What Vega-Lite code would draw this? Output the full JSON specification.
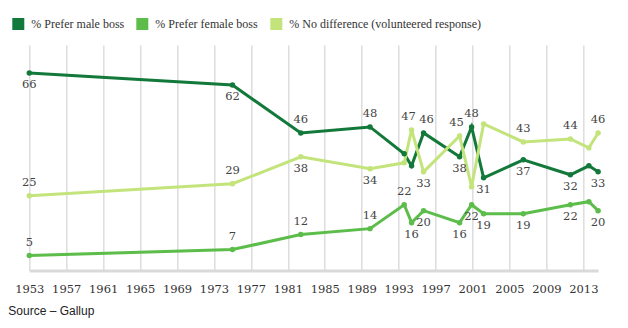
{
  "$schema": "https://vega.github.io/schema/vega-lite/v6.json",
  "autosize": {"type": "none"},
  "width": 568.8,
  "height": 225.5,
  "padding": {"left": 29.3, "top": 45, "right": 29.9, "bottom": 57.5},
  "background": "white",
  "config": {"view": {"stroke": null}},
  "title": {"text": "Source – Gallup", "orient": "bottom", "anchor": "start", "frame": "group", "font": "Liberation Sans", "fontSize": 12, "fontWeight": "normal", "color": "#222", "dx": -21, "offset": 11},
  "data": {"values": [
    {"year": 1953, "series": "% Prefer male boss", "value": 66},
    {"year": 1975, "series": "% Prefer male boss", "value": 62},
    {"year": 1982.4, "series": "% Prefer male boss", "value": 46},
    {"year": 1989.9, "series": "% Prefer male boss", "value": 48},
    {"year": 1993.6, "series": "% Prefer male boss", "value": 39},
    {"year": 1994.4, "series": "% Prefer male boss", "value": 35},
    {"year": 1995.7, "series": "% Prefer male boss", "value": 46},
    {"year": 1999.6, "series": "% Prefer male boss", "value": 38},
    {"year": 2000.9, "series": "% Prefer male boss", "value": 48},
    {"year": 2002.2, "series": "% Prefer male boss", "value": 31},
    {"year": 2006.5, "series": "% Prefer male boss", "value": 37},
    {"year": 2011.6, "series": "% Prefer male boss", "value": 32},
    {"year": 2013.6, "series": "% Prefer male boss", "value": 35},
    {"year": 2014.6, "series": "% Prefer male boss", "value": 33},
    {"year": 1953, "series": "% Prefer female boss", "value": 5},
    {"year": 1975, "series": "% Prefer female boss", "value": 7},
    {"year": 1982.4, "series": "% Prefer female boss", "value": 12},
    {"year": 1989.9, "series": "% Prefer female boss", "value": 14},
    {"year": 1993.6, "series": "% Prefer female boss", "value": 22},
    {"year": 1994.4, "series": "% Prefer female boss", "value": 16},
    {"year": 1995.7, "series": "% Prefer female boss", "value": 20},
    {"year": 1999.6, "series": "% Prefer female boss", "value": 16},
    {"year": 2000.9, "series": "% Prefer female boss", "value": 22},
    {"year": 2002.2, "series": "% Prefer female boss", "value": 19},
    {"year": 2006.5, "series": "% Prefer female boss", "value": 19},
    {"year": 2011.6, "series": "% Prefer female boss", "value": 22},
    {"year": 2013.6, "series": "% Prefer female boss", "value": 23},
    {"year": 2014.6, "series": "% Prefer female boss", "value": 20},
    {"year": 1953, "series": "% No difference (volunteered response)", "value": 25},
    {"year": 1975, "series": "% No difference (volunteered response)", "value": 29},
    {"year": 1982.4, "series": "% No difference (volunteered response)", "value": 38},
    {"year": 1989.9, "series": "% No difference (volunteered response)", "value": 34},
    {"year": 1993.6, "series": "% No difference (volunteered response)", "value": 36},
    {"year": 1994.4, "series": "% No difference (volunteered response)", "value": 47},
    {"year": 1995.7, "series": "% No difference (volunteered response)", "value": 33},
    {"year": 1999.6, "series": "% No difference (volunteered response)", "value": 45},
    {"year": 2000.9, "series": "% No difference (volunteered response)", "value": 28},
    {"year": 2002.2, "series": "% No difference (volunteered response)", "value": 49},
    {"year": 2006.5, "series": "% No difference (volunteered response)", "value": 43},
    {"year": 2011.6, "series": "% No difference (volunteered response)", "value": 44},
    {"year": 2013.6, "series": "% No difference (volunteered response)", "value": 41},
    {"year": 2014.6, "series": "% No difference (volunteered response)", "value": 46}
  ]},
  "encoding": {
    "x": {"field": "year", "type": "quantitative",
      "scale": {"domain": [1953, 2014.6], "nice": false, "zero": false},
      "axis": {"values": [1953, 1957, 1961, 1965, 1969, 1973, 1977, 1981, 1985, 1989, 1993, 1997, 2001, 2005, 2009, 2013],
        "format": "d", "title": null, "grid": true, "gridColor": "#dddddd", "gridWidth": 1.5,
        "domainColor": "#d9d9d9", "domainWidth": 3, "ticks": false,
        "labelFont": "DejaVu Serif", "labelFontSize": 11.5, "labelColor": "#333", "labelPadding": 13, "labelFlush": false, "labelOverlap": false}},
    "y": {"field": "value", "type": "quantitative", "scale": {"domain": [0, 75.4], "nice": false}, "axis": null}
  },
  "layer": [
    {
      "mark": {"type": "line", "strokeWidth": 3},
      "encoding": {
        "color": {"field": "series", "type": "nominal",
          "scale": {"domain": ["% Prefer male boss", "% Prefer female boss", "% No difference (volunteered response)"],
                    "range": ["#13793a", "#5cbd4b", "#c3e47b"]},
          "legend": {"orient": "none", "legendX": -17, "legendY": -27, "direction": "horizontal", "columns": 3, "title": null,
            "symbolType": "square", "symbolSize": 144, "symbolStrokeWidth": 0,
            "labelFont": "Liberation Serif", "labelFontSize": 12, "labelColor": "#333", "labelOffset": 7, "columnPadding": 12, "labelLimit": 300,
            "encode": {"symbols": {"update": {"fill": {"scale": "color", "field": "value"}, "strokeWidth": {"value": 0}, "opacity": {"value": 1}}}}}
        }
      }
    },
    {
      "mark": {"type": "circle", "size": 30, "opacity": 1},
      "encoding": {"color": {"field": "series", "type": "nominal"}}
    },
    {
      "transform": [{"filter": "(datum.series == '% Prefer male boss' && indexof([1982.4, 1989.9, 2000.9], datum.year) >= 0) || (datum.series == '% No difference (volunteered response)' && indexof([1953, 1975, 2006.5, 2011.6, 2014.6], datum.year) >= 0) || (datum.series == '% Prefer female boss' && indexof([1953, 1975, 1982.4, 1989.9, 1993.6], datum.year) >= 0)"}],
      "mark": {"type": "text", "dy": -13, "baseline": "middle", "font": "DejaVu Serif", "fontSize": 11.5, "color": "#444"},
      "encoding": {"text": {"field": "value", "type": "quantitative"}}
    },
    {
      "transform": [{"filter": "datum.series == '% No difference (volunteered response)' && indexof([1994.4, 1999.6], datum.year) >= 0"}],
      "mark": {"type": "text", "dy": -13, "dx": -3, "baseline": "middle", "font": "DejaVu Serif", "fontSize": 11.5, "color": "#444"},
      "encoding": {"text": {"field": "value", "type": "quantitative"}}
    },
    {
      "transform": [{"filter": "datum.series == '% Prefer male boss' && datum.year == 1995.7"}],
      "mark": {"type": "text", "dy": -13, "dx": 3, "baseline": "middle", "font": "DejaVu Serif", "fontSize": 11.5, "color": "#444"},
      "encoding": {"text": {"field": "value", "type": "quantitative"}}
    },
    {
      "transform": [{"filter": "(datum.series == '% Prefer male boss' && indexof([1953, 1975, 1999.6, 2002.2, 2006.5, 2011.6, 2014.6], datum.year) >= 0) || (datum.series == '% No difference (volunteered response)' && indexof([1982.4, 1989.9, 1995.7], datum.year) >= 0) || (datum.series == '% Prefer female boss' && indexof([1994.4, 1995.7, 1999.6, 2000.9, 2002.2, 2006.5, 2011.6, 2014.6], datum.year) >= 0)"}],
      "mark": {"type": "text", "dy": 12, "baseline": "middle", "font": "DejaVu Serif", "fontSize": 11.5, "color": "#444"},
      "encoding": {"text": {"field": "value", "type": "quantitative"}}
    }
  ]
}
